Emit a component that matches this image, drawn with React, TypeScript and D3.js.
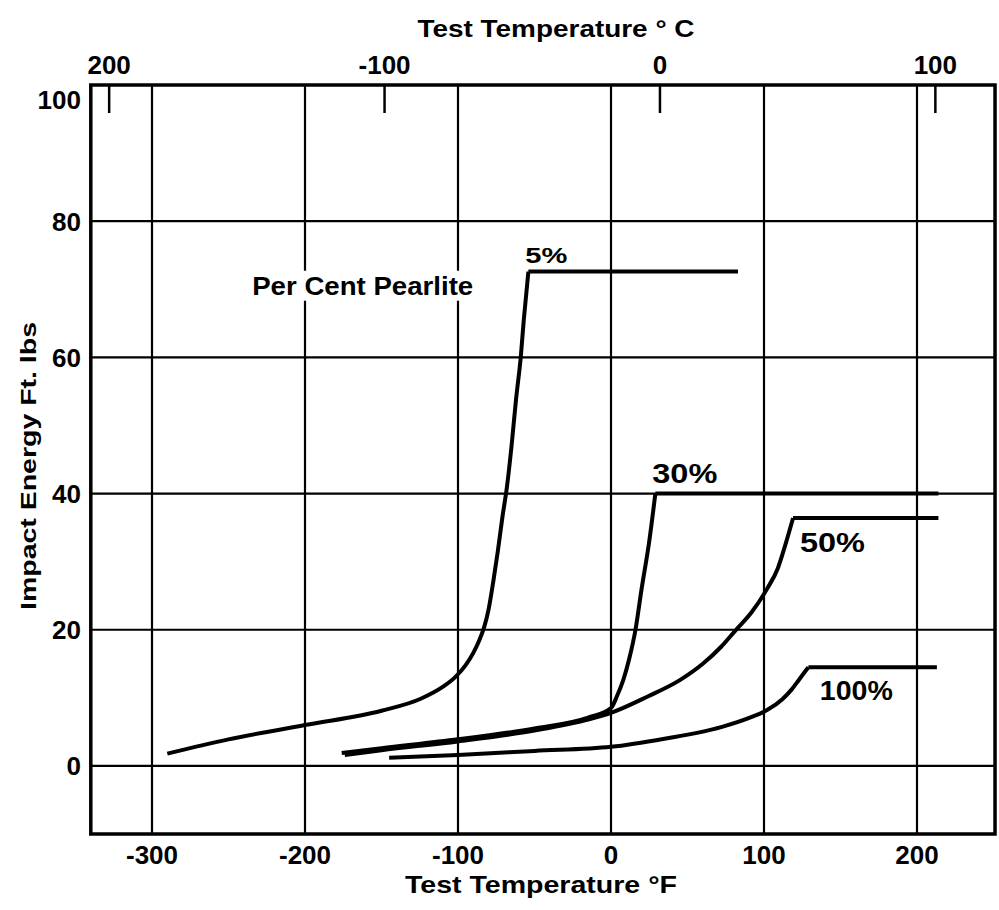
import React from "react";
import * as d3 from "d3";

// ---- axis ticks ----
const fahrenheitTicks = [-300, -200, -100, 0, 100, 200];
const energyTicks = [0, 20, 40, 60, 80, 100];
const energyGrid = [0, 20, 40, 60, 80];
const celsiusTicks = [-200, -100, 0, 100];
const celsiusTickLabels = ["200", "-100", "0", "100"];

// ---- series (Test temperature °F, impact energy ft-lbs) ----
const pearlite5F = [-290, -250, -200, -150, -124, -110, -102, -95, -90, -86, -83, -80, -77, -74, -71, -68, -65, -62, -59, -57, -54, 83];
const pearlite5E = [1.8, 3.9, 6.0, 8.1, 9.9, 11.6, 13.0, 14.8, 16.6, 18.5, 20.3, 23.0, 27.0, 31.5, 36.5, 41.0, 47.0, 54.0, 60.0, 65.5, 72.6, 72.6];

const pearlite30F = [-176, -150, -100, -50, -15, 0, 4, 8, 12, 16, 20, 25, 29, 214];
const pearlite30E = [1.9, 2.6, 3.9, 5.5, 7.1, 8.5, 10.3, 12.6, 15.8, 20.0, 26.0, 33.0, 40.0, 40.0];

const pearlite50F = [-174, -150, -100, -50, -15, 0, 24, 45, 60, 72, 81, 92, 102, 109, 114, 119, 214];
const pearlite50E = [1.6, 2.3, 3.6, 5.2, 6.8, 7.8, 10.2, 12.6, 15.0, 17.5, 19.8, 22.6, 26.0, 29.0, 32.5, 36.4, 36.4];

const pearlite100F = [-145, -100, -50, 0, 35, 72, 92, 102, 112, 118, 123, 129, 213];
const pearlite100E = [1.2, 1.6, 2.2, 2.8, 4.0, 5.7, 7.2, 8.2, 9.8, 11.2, 12.7, 14.5, 14.5];

const seriesLabels = ["5%", "30%", "50%", "100%"];
// label anchor (°F, ft-lbs) of each curve label
const labelF = [-56, 27, 123.5, 136.5];
const labelE = [73.9, 41.6, 31.4, 9.7];

const W = 999;
const H = 910;
const FONT = "'Liberation Sans', Arial, sans-serif";

export default function App() {
  const x = d3.scaleLinear().domain([-300, 200]).range([152, 917]);
  const y = d3.scaleLinear().domain([-10, 100]).range([834, 85]);
  const xL = x(-340);
  const xR = x(251);
  const yT = y(100);
  const yB = y(-10);

  const series = [
    { F: pearlite5F, E: pearlite5E },
    { F: pearlite30F, E: pearlite30E },
    { F: pearlite50F, E: pearlite50E },
    { F: pearlite100F, E: pearlite100E },
  ];

  const curve = d3
    .line<[number, number]>()
    .x((d) => x(d[0]))
    .y((d) => y(d[1]))
    .curve(d3.curveMonotoneX);
  const straight = d3
    .line<[number, number]>()
    .x((d) => x(d[0]))
    .y((d) => y(d[1]));

  const c2f = (c: number) => (c * 9) / 5 + 32;

  const sizes = [{ fs: 22, len: 42 }, { fs: 28, len: 65 }, { fs: 28, len: 65 }, { fs: 28, len: 73 }];

  return (
    <svg
      width={W}
      height={H}
      style={{ position: "absolute", left: 0, top: 0, background: "#fff" }}
      fontFamily={FONT}
    >
      <rect x={0} y={0} width={W} height={H} fill="#fff" />
      {/* grid */}
      {energyGrid.map((v) => (
        <line key={"h" + v} x1={xL} x2={xR} y1={y(v)} y2={y(v)} stroke="#000" strokeWidth={2.2} />
      ))}
      {fahrenheitTicks.map((v) => (
        <line key={"v" + v} x1={x(v)} x2={x(v)} y1={yT} y2={yB} stroke="#000" strokeWidth={2.2} />
      ))}
      {/* frame */}
      <rect x={xL} y={yT} width={xR - xL} height={yB - yT} fill="none" stroke="#000" strokeWidth={3.5} />

      {/* celsius ticks on top */}
      {celsiusTicks.map((c, i) => (
        <g key={"c" + c}>
          <line x1={x(c2f(c))} x2={x(c2f(c))} y1={yT} y2={yT + 28} stroke="#000" strokeWidth={2.5} />
          <text x={x(c2f(c))} y={74} textAnchor="middle" fontSize={26} fontWeight={700}>
            {celsiusTickLabels[i]}
          </text>
        </g>
      ))}
      <text x={556} y={37} textAnchor="middle" fontSize={23} fontWeight={700} textLength={277} lengthAdjust="spacingAndGlyphs">
        Test Temperature ° C
      </text>

      {/* y labels */}
      {energyTicks.map((v) => (
        <text
          key={"yl" + v}
          x={81}
          y={Math.max(y(v), yT + 15)}
          dy="0.36em"
          textAnchor="end"
          fontSize={26}
          fontWeight={700}
        >
          {v}
        </text>
      ))}
      <text
        transform={`translate(28,466) rotate(-90)`}
        textAnchor="middle"
        dy="0.36em"
        fontSize={22}
        fontWeight={700}
        textLength={288}
        lengthAdjust="spacingAndGlyphs"
      >
        Impact Energy Ft. lbs
      </text>

      {/* x labels bottom */}
      {fahrenheitTicks.map((v) => (
        <text key={"xl" + v} x={x(v)} y={864} textAnchor="middle" fontSize={26} fontWeight={700}>
          {v}
        </text>
      ))}
      <text x={541} y={893} textAnchor="middle" fontSize={24} fontWeight={700} textLength={272} lengthAdjust="spacingAndGlyphs">
        Test Temperature °F
      </text>

      {/* curves */}
      {series.map((s, i) => {
        const pts: [number, number][] = s.F.map((f, j) => [f, s.E[j]]);
        const last = s.E[s.E.length - 1];
        const k = s.E.findIndex((e) => e === last);
        return (
          <g key={"s" + i}>
            <path d={curve(pts.slice(0, k + 1)) || ""} fill="none" stroke="#000" strokeWidth={4} strokeLinejoin="round" />
            <path d={straight(pts.slice(k)) || ""} fill="none" stroke="#000" strokeWidth={4} strokeLinejoin="miter" />
          </g>
        );
      })}

      {/* curve labels */}
      {seriesLabels.map((t, i) => (
        <text
          key={"lab" + i}
          x={x(labelF[i])}
          y={y(labelE[i])}
          fontSize={sizes[i].fs}
          fontWeight={700}
          textLength={sizes[i].len}
          lengthAdjust="spacingAndGlyphs"
        >
          {t}
        </text>
      ))}

      {/* Per Cent Pearlite with knockout */}
      <rect x={x(-236)} y={y(69.2) - 24} width={228} height={30} fill="#fff" />
      <text
        x={x(-234.5)}
        y={y(69.2)}
        fontSize={26}
        fontWeight={700}
        textLength={221}
        lengthAdjust="spacingAndGlyphs"
      >
        Per Cent Pearlite
      </text>
    </svg>
  );
}
